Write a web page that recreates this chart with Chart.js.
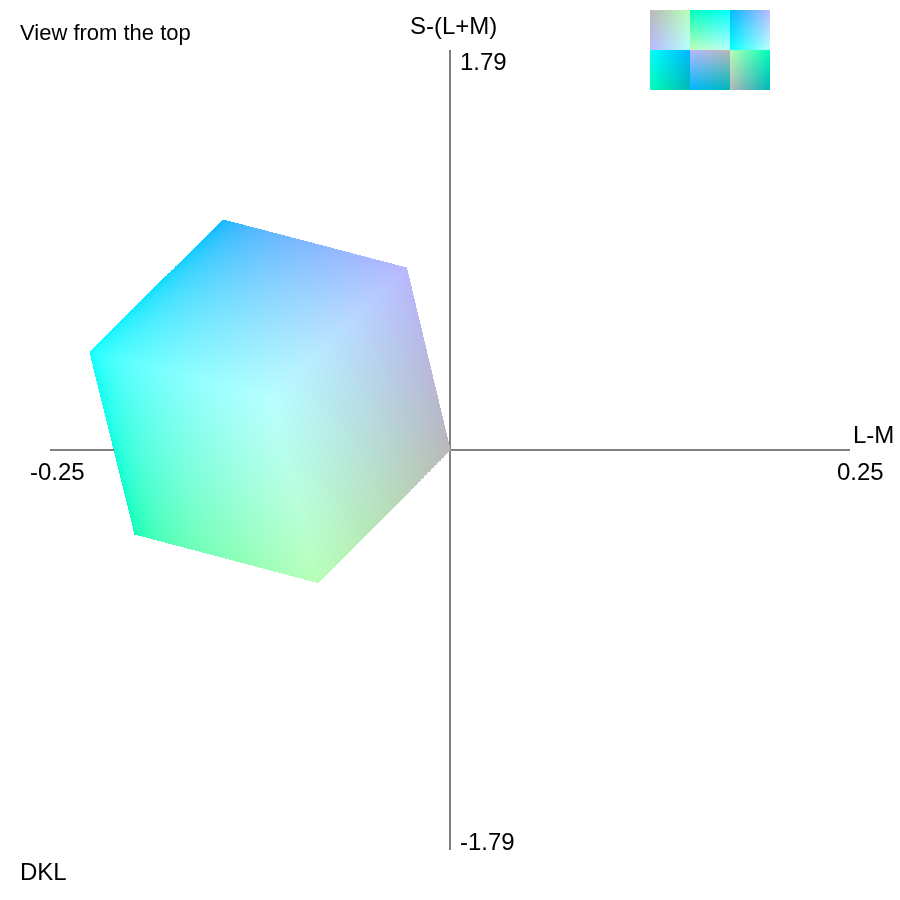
<!DOCTYPE html>
<html>
<head>
<meta charset="utf-8">
<style>
  html, body { margin: 0; padding: 0; background: #fff; }
  canvas { display: block; }
</style>
<script src="https://cdn.jsdelivr.net/npm/chart.js@4"></script>
</head>
<body>
<canvas id="chart" width="900" height="900"></canvas>
<script>
// cube corners seen from the top, in DKL units
const cornerNames = ['gray', 'lavender', 'blue', 'cyan', 'spring', 'lightGreen', 'lightCyan'];
const cornerLM = [0, -0.0272, -0.1416, -0.225, -0.1969, -0.0825, -0.1125];
const cornerS = [0, 0.8145, 1.029, 0.4386, -0.376, -0.593, 0.2238];

// faces visible in the top view: corners in order top-left, top-right, bottom-left, bottom-right
const topFaces = [
  ['gray', 'lightGreen', 'lavender', 'lightCyan'],
  ['spring', 'cyan', 'lightGreen', 'lightCyan'],
  ['blue', 'lavender', 'cyan', 'lightCyan']
];

// all six faces for the small swatches
const swatchFaces = [
  ['gray', 'lightGreen', 'lavender', 'lightCyan'],
  ['spring', 'cyan', 'lightGreen', 'lightCyan'],
  ['blue', 'lavender', 'cyan', 'lightCyan'],
  ['cyan', 'blue', 'spring', 'teal'],
  ['lavender', 'gray', 'blue', 'teal'],
  ['lightGreen', 'spring', 'gray', 'teal']
];

const cornerColors = {
  gray: [184, 184, 184],
  lavender: [184, 184, 255],
  blue: [0, 184, 255],
  cyan: [0, 255, 255],
  spring: [0, 255, 184],
  lightGreen: [184, 255, 184],
  lightCyan: [184, 255, 255],
  teal: [0, 184, 184]
};

const lmTicks = [-0.25, 0.25];
const sTicks = [-1.79, 1.79];
const lmTitle = 'L-M';
const sTitle = 'S-(L+M)';
const viewTitle = 'View from the top';
const spaceName = 'DKL';

const mix = (a, b, t) => a + (b - a) * t;

// paint one face pixel by pixel, colours are mixed after raising to gamma
function paintFace(img, pts, cols, gamma) {
  const w = img.width;
  const h = img.height;
  const lin = cols.map(col => col.map(c => Math.pow(c / 255, gamma)));
  const steps = 700;
  for (let i = 0; i <= steps; i++) {
    const v = i / steps;
    for (let j = 0; j <= steps; j++) {
      const u = j / steps;
      const x = mix(mix(pts[0].x, pts[1].x, u), mix(pts[2].x, pts[3].x, u), v);
      const y = mix(mix(pts[0].y, pts[1].y, u), mix(pts[2].y, pts[3].y, u), v);
      const px = Math.floor(x);
      const py = Math.floor(y);
      if (px < 0 || py < 0 || px >= w || py >= h) continue;
      const k = (py * w + px) * 4;
      for (let c = 0; c < 3; c++) {
        const l = mix(mix(lin[0][c], lin[1][c], u), mix(lin[2][c], lin[3][c], u), v);
        img.data[k + c] = 255 * Math.pow(l, 1 / gamma);
      }
      img.data[k + 3] = 255;
    }
  }
}

const cubePlugin = {
  id: 'cube',
  afterDatasetsDraw(chart) {
    const { ctx, scales, chartArea } = chart;

    // axes, stop exactly at the ends of the scales
    const zeroX = scales.x.getPixelForValue(0);
    const zeroY = scales.y.getPixelForValue(0);
    ctx.save();
    ctx.fillStyle = '#808080';
    ctx.fillRect(chartArea.left, zeroY - 1, chartArea.right - chartArea.left, 2);
    ctx.fillRect(zeroX - 1, chartArea.top, 2, chartArea.bottom - chartArea.top);
    ctx.restore();

    const off = document.createElement('canvas');
    off.width = chart.width;
    off.height = chart.height;
    const offCtx = off.getContext('2d');
    const img = offCtx.createImageData(off.width, off.height);

    topFaces.forEach(face => {
      const pts = face.map(name => {
        const idx = cornerNames.indexOf(name);
        return { x: scales.x.getPixelForValue(cornerLM[idx]), y: scales.y.getPixelForValue(cornerS[idx]) };
      });
      paintFace(img, pts, face.map(name => cornerColors[name]), 2.2);
    });

    // swatches top right, 3 x 2 cells of 40px
    swatchFaces.forEach((face, n) => {
      const left = 650 + (n % 3) * 40;
      const top = 10 + Math.floor(n / 3) * 40;
      const pts = [
        { x: left, y: top },
        { x: left + 39.99, y: top },
        { x: left, y: top + 39.99 },
        { x: left + 39.99, y: top + 39.99 }
      ];
      paintFace(img, pts, face.map(name => cornerColors[name]), 1);
    });

    offCtx.putImageData(img, 0, 0);
    ctx.drawImage(off, 0, 0);

    ctx.save();
    ctx.fillStyle = '#000';
    ctx.textBaseline = 'alphabetic';
    ctx.textAlign = 'left';
    ctx.font = '22px "Liberation Sans", Arial, sans-serif';
    ctx.fillText(viewTitle, 20, 40);
    ctx.font = '24px "Liberation Sans", Arial, sans-serif';
    ctx.fillText(spaceName, 20, 880);
    ctx.fillText(sTitle, 410, 34);
    ctx.fillText(lmTitle, 853, 443);
    ctx.fillText(String(sTicks[1]), 460, 70);
    ctx.fillText(String(sTicks[0]), 460, 850);
    ctx.fillText(lmTicks[0].toFixed(2), 30, 480);
    ctx.fillText(lmTicks[1].toFixed(2), 837, 480);
    ctx.restore();
  }
};

new Chart(document.getElementById('chart').getContext('2d'), {
  type: 'scatter',
  data: {
    datasets: [{
      data: cornerLM.map((x, i) => ({ x, y: cornerS[i] })),
      pointRadius: 0,
      showLine: false
    }]
  },
  options: {
    responsive: false,
    animation: false,
    devicePixelRatio: 1,
    layout: { padding: 50 },
    plugins: { legend: { display: false }, tooltip: { enabled: false } },
    scales: {
      x: {
        type: 'linear',
        min: lmTicks[0],
        max: lmTicks[1],
        position: { y: 0 },
        grid: { display: false },
        border: { display: false },
        ticks: { display: false }
      },
      y: {
        type: 'linear',
        min: sTicks[0],
        max: sTicks[1],
        position: { x: 0 },
        grid: { display: false },
        border: { display: false },
        ticks: { display: false }
      }
    }
  },
  plugins: [cubePlugin]
});
</script>
</body>
</html>
